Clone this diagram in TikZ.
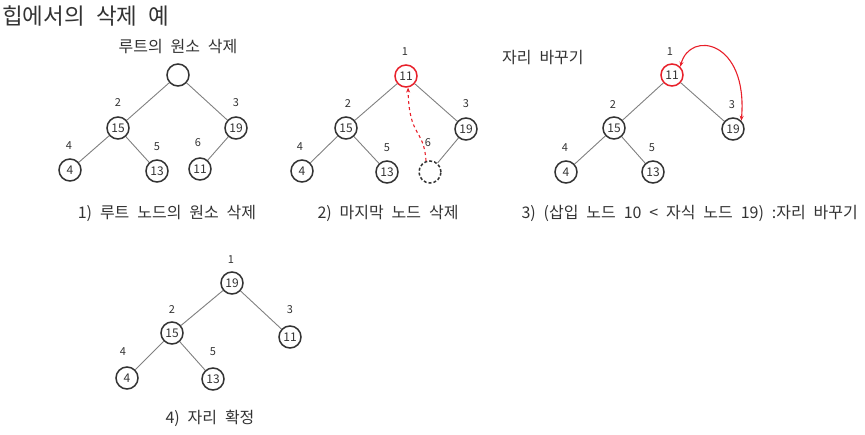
\documentclass[tikz,border=0pt]{standalone}
\usepackage{fontspec}
\setmainfont{Noto Sans CJK KR}
\newfontfamily\capfont[WordSpace=2.6]{Noto Sans CJK KR}
\newfontfamily\ttlfont[WordSpace=2.2]{Noto Sans CJK KR}
\usetikzlibrary{arrows.meta}
\definecolor{txt}{HTML}{333333}
\definecolor{edg}{HTML}{808080}
\definecolor{myred}{HTML}{E8202A}
\begin{document}
\begin{tikzpicture}[x=1pt,y=-1pt,
  hn/.style={circle,draw=txt,line width=1.5pt,minimum size=22pt,inner sep=0pt,font=\fontsize{12}{12}\selectfont,text=txt},
  rn/.style={hn,draw=myred},
  dn/.style={hn,dash pattern=on 3pt off 2pt},
  idx/.style={font=\fontsize{11}{11}\selectfont,text=txt},
  captxt/.style={font=\capfont\fontsize{16}{16}\selectfont,text=txt},
  ed/.style={draw=edg,line width=0.9pt},
  ra/.style={draw=myred,line width=1.1pt,-{Stealth[length=5pt,width=4pt]}}
]
\useasboundingbox (0,0) rectangle (865,435);
\node[anchor=west,font=\ttlfont\fontsize{22.5}{22.5}\selectfont,text=txt,inner sep=0pt] (title) at (2,16) {힙에서의 삭제 예};

% Tree 1
\node[captxt] (t1) at (178,47) {루트의 원소 삭제};
\node[hn] (a1) at (178,75) {};
\node[hn] (a2) at (118,128) {15};
\node[hn] (a3) at (236,128) {19};
\node[hn] (a4) at (70,170) {4};
\node[hn] (a5) at (157,171) {13};
\node[hn] (a6) at (200,169) {11};
\node[idx] (la2) at (118,103) {2};
\node[idx] (la3) at (236,103) {3};
\node[idx] (la4) at (69,146) {4};
\node[idx] (la5) at (157,147) {5};
\node[idx] (la6) at (198,143) {6};
\draw[ed] (a1)--(a2) (a1)--(a3) (a2)--(a4) (a2)--(a5) (a3)--(a6);
\node[captxt] (c1) at (167,213) {1) 루트 노드의 원소 삭제};

% Tree 2
\node[rn] (b1) at (406,76) {11};
\node[hn] (b2) at (346,128) {15};
\node[hn] (b3) at (466,129) {19};
\node[hn] (b4) at (302,171) {4};
\node[hn] (b5) at (387,172) {13};
\node[dn] (b6) at (430,172) {};
\node[idx] (lb1) at (405,52) {1};
\node[idx] (lb2) at (348,104) {2};
\node[idx] (lb3) at (466,104) {3};
\node[idx] (lb4) at (300,147) {4};
\node[idx] (lb5) at (387,148) {5};
\node[idx] (lb6) at (428,143) {6};
\draw[ed] (b1)--(b2) (b1)--(b3) (b2)--(b4) (b2)--(b5) (b3)--(b6);
\draw[ra,dashed] (b6.110) .. controls (424,128) and (409,138) .. (b1.-80);
\node[captxt] (c2) at (388,213) {2) 마지막 노드 삭제};

% Tree 3
\node[captxt,anchor=west,inner sep=0pt] (t3) at (502,58) {자리 바꾸기};
\node[rn] (d1) at (672,75) {11};
\node[hn] (d2) at (614,128) {15};
\node[hn] (d3) at (733,129) {19};
\node[hn] (d4) at (566,172) {4};
\node[hn] (d5) at (653,172) {13};
\node[idx] (ld1) at (670,52) {1};
\node[idx] (ld2) at (613,105) {2};
\node[idx] (ld3) at (732,105) {3};
\node[idx] (ld4) at (565,148) {4};
\node[idx] (ld5) at (652,148) {5};
\draw[ed] (d1)--(d2) (d1)--(d3) (d2)--(d4) (d2)--(d5);
\draw[ra,{Stealth[length=5pt,width=4pt]}-{Stealth[length=5pt,width=4pt]}] (d1.north east) .. controls (690,30) and (748,40) .. (d3.north east);
\node[captxt,anchor=east,inner sep=0pt] (c3) at (858,213) {3) (삽입 노드 10 < 자식 노드 19) :자리 바꾸기};

% Tree 4
\node[hn] (e1) at (232,283) {19};
\node[hn] (e2) at (172,333) {15};
\node[hn] (e3) at (290,337) {11};
\node[hn] (e4) at (127,378) {4};
\node[hn] (e5) at (213,379) {13};
\node[idx] (le1) at (231,260) {1};
\node[idx] (le2) at (172,310) {2};
\node[idx] (le3) at (290,310) {3};
\node[idx] (le4) at (123,352) {4};
\node[idx] (le5) at (213,352) {5};
\draw[ed] (e1)--(e2) (e1)--(e3) (e2)--(e4) (e2)--(e5);
\node[captxt] (c4) at (210,418) {4) 자리 확정};
\end{tikzpicture}
\end{document}
